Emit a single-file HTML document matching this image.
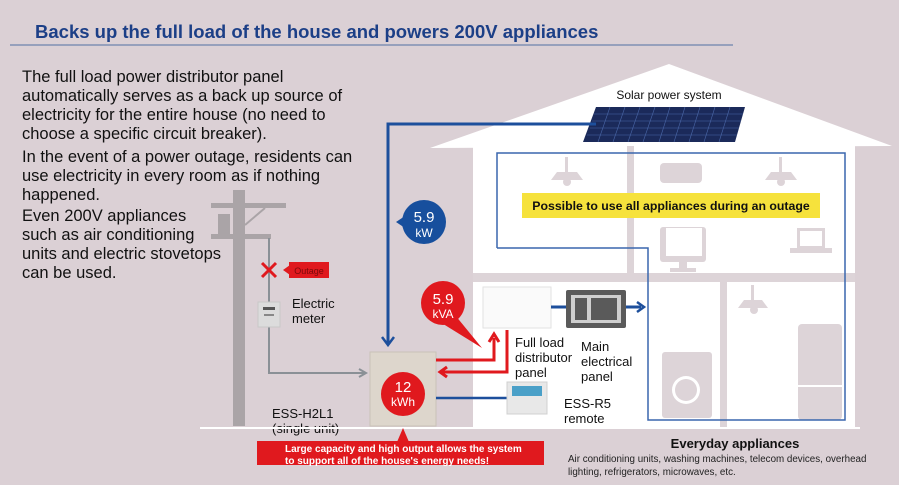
<!DOCTYPE html>
<html><head><meta charset="utf-8"><style>
html,body{margin:0;padding:0;background:#dbd0d5;}
svg{display:block;}
text{font-family:"Liberation Sans",Arial,sans-serif;}
</style></head><body>
<svg width="899" height="485" viewBox="0 0 899 485" xmlns="http://www.w3.org/2000/svg">
<rect width="899" height="485" fill="#dbd0d5"/>
<!-- title -->
<text x="35" y="38" font-size="18.5" font-weight="bold" fill="#1c3f87">Backs up the full load of the house and powers 200V appliances</text>
<line x1="10" y1="45" x2="733" y2="45" stroke="#7f8fb3" stroke-width="1.5"/>
<!-- body text -->
<g font-size="16.5" fill="#111">
<text x="22" y="82">The full load power distributor panel</text>
<text x="22" y="101">automatically serves as a back up source of</text>
<text x="22" y="120">electricity for the entire house (no need to</text>
<text x="22" y="139">choose a specific circuit breaker).</text>
<text x="22" y="162">In the event of a power outage, residents can</text>
<text x="22" y="181">use electricity in every room as if nothing</text>
<text x="22" y="200">happened.</text>
<text x="22" y="221">Even 200V appliances</text>
<text x="22" y="240">such as air conditioning</text>
<text x="22" y="259">units and electric stovetops</text>
<text x="22" y="278">can be used.</text>
</g>
<!-- house -->
<polygon points="669,64 892,146 430,148" fill="#fff"/>
<rect x="473" y="146" width="382" height="282" fill="#fff"/>
<rect x="473" y="273" width="382" height="9" fill="#ddd4d8"/>
<rect x="627" y="146" width="7" height="127" fill="#ddd4d8"/>
<rect x="720" y="282" width="7" height="146" fill="#ddd4d8"/>
<!-- appliance icons -->
<g fill="#ddd4d8">
<polygon points="557,172 577,172 583,180 551,180"/><rect x="565" y="157" width="3" height="15"/><circle cx="567" cy="182" r="4"/>
<polygon points="771,172 791,172 797,180 765,180"/><rect x="779" y="157" width="3" height="15"/><circle cx="781" cy="182" r="4"/>
<rect x="660" y="163" width="42" height="20" rx="4"/>
<rect x="660" y="227" width="46" height="35" rx="3"/><rect x="679" y="262" width="8" height="6"/><rect x="670" y="268" width="26" height="4"/>
<rect x="797" y="228" width="28" height="20"/><rect x="790" y="248" width="42" height="5"/>
<polygon points="744,300 762,300 768,308 738,308"/><rect x="751" y="285" width="3" height="15"/><circle cx="754" cy="310" r="4"/>
<rect x="662" y="352" width="50" height="66" rx="3"/>
<rect x="798" y="324" width="44" height="96" rx="4"/>
</g>
<g fill="#fff"><rect x="666" y="228" width="36" height="28"/><rect x="800" y="231" width="22" height="15"/><circle cx="686" cy="390" r="14"/><circle cx="686" cy="390" r="11" fill="#ddd4d8"/></g>
<line x1="798" y1="386" x2="842" y2="386" stroke="#fff" stroke-width="2"/>
<!-- blue loop -->
<polyline points="497,248 497,153 845,153 845,420 648,420 648,248 497,248" fill="none" stroke="#3a67ad" stroke-width="1.5"/>
<!-- yellow -->
<rect x="522" y="193" width="298" height="25" fill="#f6e23c"/>
<text x="671" y="210" font-size="12.3" font-weight="bold" text-anchor="middle" fill="#111">Possible to use all appliances during an outage</text>
<!-- solar -->
<text x="669" y="99" font-size="12" text-anchor="middle" fill="#111">Solar power system</text>
<polygon points="596,107 745,107 735,142 583,142" fill="#1b2a5a"/>
<g stroke="#4a67a8" stroke-width="0.6">
<line x1="594" y1="114" x2="743" y2="114"/><line x1="592" y1="121" x2="741" y2="121"/><line x1="590" y1="128" x2="739" y2="128"/><line x1="587" y1="135" x2="737" y2="135"/>
<line x1="610" y1="107" x2="598" y2="142"/><line x1="625" y1="107" x2="613" y2="142"/><line x1="640" y1="107" x2="628" y2="142"/><line x1="655" y1="107" x2="643" y2="142"/><line x1="670" y1="107" x2="659" y2="142"/><line x1="685" y1="107" x2="674" y2="142"/><line x1="700" y1="107" x2="689" y2="142"/><line x1="715" y1="107" x2="704" y2="142"/><line x1="730" y1="107" x2="719" y2="142"/>
</g>
<!-- blue line from solar -->
<polyline points="596,124 388,124 388,344" fill="none" stroke="#1d4f9c" stroke-width="3"/>
<polyline points="382,337 388,345 394,337" fill="none" stroke="#1d4f9c" stroke-width="2.5"/>
<!-- 5.9 kW -->
<polygon points="396,222 408,214 408,230" fill="#174f9d"/>
<circle cx="424" cy="222" r="22" fill="#174f9d"/>
<text x="424" y="222" font-size="15" fill="#fff" text-anchor="middle">5.9</text>
<text x="424" y="237" font-size="12" fill="#fff" text-anchor="middle">kW</text>
<!-- pole -->
<rect x="233" y="190" width="12" height="236" fill="#aaa4a7"/>
<rect x="211" y="203" width="75" height="5" fill="#aaa4a7"/>
<rect x="211" y="234" width="60" height="5" fill="#aaa4a7"/>
<line x1="245" y1="225" x2="265" y2="208" stroke="#aaa4a7" stroke-width="2"/>
<rect x="218" y="214" width="12" height="20" fill="#aaa4a7"/>
<polyline points="269,238 269,373 364,373" fill="none" stroke="#8a9096" stroke-width="2"/>
<polyline points="359,369 366,373 359,377" fill="none" stroke="#8a9096" stroke-width="2"/>
<g stroke="#e0191e" stroke-width="3"><line x1="262" y1="263" x2="276" y2="277"/><line x1="276" y1="263" x2="262" y2="277"/></g>
<polygon points="283,270 290,265 290,275" fill="#e0191e"/>
<rect x="289" y="262" width="40" height="16" fill="#e0191e"/>
<text x="309" y="274" font-size="9" fill="#7a0a0a" text-anchor="middle">Outage</text>
<rect x="258" y="302" width="22" height="25" fill="#dcdcdc" stroke="#c8c8c8"/>
<rect x="263" y="307" width="12" height="3" fill="#555"/>
<rect x="264" y="314" width="10" height="2" fill="#888"/>
<text x="292" y="308" font-size="13" fill="#111">Electric</text>
<text x="292" y="323" font-size="13" fill="#111">meter</text>
<!-- battery -->
<rect x="370" y="352" width="66" height="74" fill="#ddd6cc" stroke="#c9c2b8"/>
<circle cx="403" cy="394" r="22" fill="#e0191e"/>
<text x="403" y="392" font-size="15" fill="#fff" text-anchor="middle">12</text>
<text x="403" y="406" font-size="12" fill="#fff" text-anchor="middle">kWh</text>
<!-- red lines -->
<polyline points="436,360 494,360 494,338" fill="none" stroke="#e0191e" stroke-width="3"/>
<polyline points="489,342 494,334 499,342" fill="none" stroke="#e0191e" stroke-width="3"/>
<polyline points="507,330 507,372 442,372" fill="none" stroke="#e0191e" stroke-width="3"/>
<polyline points="447,367 440,372 447,377" fill="none" stroke="#e0191e" stroke-width="3"/>
<polygon points="455,315 482,348 440,322" fill="#e0191e"/>
<circle cx="443" cy="303" r="22" fill="#e0191e"/>
<text x="443" y="304" font-size="15" fill="#fff" text-anchor="middle">5.9</text>
<text x="443" y="318" font-size="12" fill="#fff" text-anchor="middle">kVA</text>
<!-- panels -->
<rect x="483" y="287" width="68" height="41" fill="#fafafa" stroke="#e2e2e2"/>
<line x1="551" y1="307" x2="567" y2="307" stroke="#1d4f9c" stroke-width="3"/>
<rect x="566" y="290" width="60" height="38" fill="#5a5a5a" rx="2"/>
<rect x="571" y="295" width="50" height="28" fill="#cfcfcf"/>
<rect x="575" y="298" width="12" height="22" fill="#5a5a5a"/><rect x="591" y="298" width="26" height="22" fill="#5a5a5a"/>
<line x1="626" y1="307" x2="641" y2="307" stroke="#1d4f9c" stroke-width="3"/>
<polyline points="637,302 644,307 637,312" fill="none" stroke="#1d4f9c" stroke-width="2.5"/>
<g font-size="13" fill="#111">
<text x="515" y="347">Full load</text><text x="515" y="362">distributor</text><text x="515" y="377">panel</text>
<text x="581" y="351">Main</text><text x="581" y="366">electrical</text><text x="581" y="381">panel</text>
<text x="564" y="408">ESS-R5</text><text x="564" y="423">remote</text>
<text x="272" y="418">ESS-H2L1</text><text x="272" y="433">(single unit)</text>
</g>
<!-- remote -->
<line x1="436" y1="398" x2="507" y2="398" stroke="#1d4f9c" stroke-width="2.5"/>
<rect x="507" y="382" width="40" height="32" fill="#e8e8e8" stroke="#d0d0d0"/>
<rect x="512" y="386" width="30" height="10" fill="#4aa0c8"/>
<!-- ground line -->
<line x1="200" y1="428" x2="860" y2="428" stroke="#fff" stroke-width="2"/>
<!-- red callout -->
<polygon points="403,428 397,442 409,442" fill="#e0191e"/>
<rect x="257" y="441" width="287" height="24" fill="#e0191e"/>
<text x="285" y="452" font-size="10" font-weight="bold" fill="#fff">Large capacity and high output allows the system</text>
<text x="285" y="464" font-size="10" font-weight="bold" fill="#fff">to support all of the house's energy needs!</text>
<!-- everyday -->
<text x="735" y="448" font-size="13" font-weight="bold" text-anchor="middle" fill="#111">Everyday appliances</text>
<text x="568" y="462" font-size="9.8" fill="#222">Air conditioning units, washing machines, telecom devices, overhead</text>
<text x="568" y="475" font-size="9.8" fill="#222">lighting, refrigerators, microwaves, etc.</text>
</svg>
</body></html>
